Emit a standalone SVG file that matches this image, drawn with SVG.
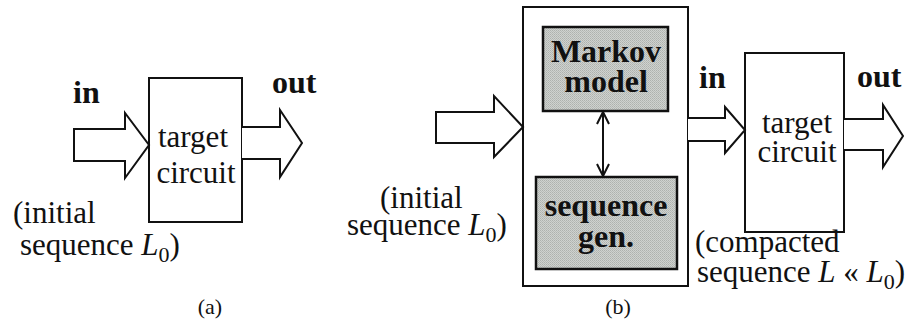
<svg xmlns="http://www.w3.org/2000/svg" width="918" height="326" viewBox="0 0 918 326">
<defs>
<pattern id="dots" width="2" height="2" patternUnits="userSpaceOnUse">
<rect width="2" height="2" fill="#cfd2cf"/>
<rect width="1" height="1" fill="#aeb2ae"/>
<rect x="1" y="1" width="1" height="1" fill="#b8bcb8"/>
</pattern>
</defs>

<g id="panel-a">
<g id="a-target">
<rect x="149" y="78" width="93" height="144" fill="#fff" stroke="#111" stroke-width="2"/>
<text font-family="Liberation Serif" font-size="31" fill="#111" x="193" y="147" text-anchor="middle">target</text>
<text font-family="Liberation Serif" font-size="31" fill="#111" x="196" y="183" text-anchor="middle">circuit</text>
</g>
<g id="a-labels">
<text font-family="Liberation Serif" font-size="32" font-weight="bold" fill="#111" x="73" y="103">in</text>
<text font-family="Liberation Serif" font-size="32" font-weight="bold" fill="#111" x="272" y="93">out</text>
<text font-family="Liberation Serif" font-size="31" fill="#111" x="13" y="223">(initial</text>
<text font-family="Liberation Serif" font-size="31" fill="#111" x="20" y="255">sequence <tspan font-style="italic">L</tspan><tspan font-size="22" dy="7">0</tspan><tspan dy="-7">)</tspan></text>
<text font-family="Liberation Serif" font-size="22" fill="#111" x="210" y="314" text-anchor="middle">(a)</text>
</g>
</g>

<g id="panel-b">
<g id="b-outer">
<rect x="523" y="7" width="165" height="279" fill="#fff" stroke="#111" stroke-width="2"/>
</g>
<g id="b-markov">
<rect x="543" y="27" width="125" height="84" fill="url(#dots)" stroke="#111" stroke-width="2.5"/>
<text font-family="Liberation Serif" font-size="32" font-weight="bold" fill="#111" x="606" y="62" text-anchor="middle">Markov</text>
<text font-family="Liberation Serif" font-size="32" font-weight="bold" fill="#111" x="606" y="92" text-anchor="middle">model</text>
</g>
<g id="b-seqgen">
<rect x="536" y="177" width="141" height="92" fill="url(#dots)" stroke="#111" stroke-width="2.5"/>
<text font-family="Liberation Serif" font-size="32" font-weight="bold" fill="#111" x="606" y="216" text-anchor="middle">sequence</text>
<text font-family="Liberation Serif" font-size="32" font-weight="bold" fill="#111" x="606" y="247" text-anchor="middle">gen.</text>
</g>
<g id="b-target">
<rect x="745" y="53" width="99" height="179" fill="#fff" stroke="#111" stroke-width="2"/>
<text font-family="Liberation Serif" font-size="31" fill="#111" x="797" y="133" text-anchor="middle">target</text>
<text font-family="Liberation Serif" font-size="31" fill="#111" x="797" y="162" text-anchor="middle">circuit</text>
</g>
<g id="b-labels">
<text font-family="Liberation Serif" font-size="31" fill="#111" x="380" y="208">(initial</text>
<text font-family="Liberation Serif" font-size="31" fill="#111" x="347" y="235">sequence <tspan font-style="italic">L</tspan><tspan font-size="22" dy="7">0</tspan><tspan dy="-7">)</tspan></text>
<text font-family="Liberation Serif" font-size="32" font-weight="bold" fill="#111" x="699" y="88">in</text>
<text font-family="Liberation Serif" font-size="32" font-weight="bold" fill="#111" x="857" y="87">out</text>
<text font-family="Liberation Serif" font-size="31" fill="#111" x="695" y="252">(compacted</text>
<text font-family="Liberation Serif" font-size="31" fill="#111" x="697" y="282">sequence <tspan font-style="italic">L</tspan> « <tspan font-style="italic">L</tspan><tspan font-size="22" dy="7">0</tspan><tspan dy="-7">)</tspan></text>
<text font-family="Liberation Serif" font-size="22" fill="#111" x="618" y="314" text-anchor="middle">(b)</text>
</g>
</g>

<g id="connectors" fill="#fff" stroke="#111" stroke-width="2">
<polygon points="74,129 125,129 125,113 149,145 125,178 125,161 74,161"/>
<polyline points="242,127 280,127 280,110 302,143 280,177 280,159 242,159"/>
<polygon points="436,112 494,112 494,96 523,127 494,157 494,143 436,143"/>
<polyline points="688,118 725,118 725,107 745,130 725,153 725,141 688,141"/>
<polyline points="844,119 883,119 883,105 903,136 883,167 883,150 844,150"/>
<line x1="603" y1="112" x2="603" y2="176"/>
<polyline fill="none" points="597,124 603,112 609,124"/>
<polyline fill="none" points="597,164 603,176 609,164"/>
</g>
</svg>
